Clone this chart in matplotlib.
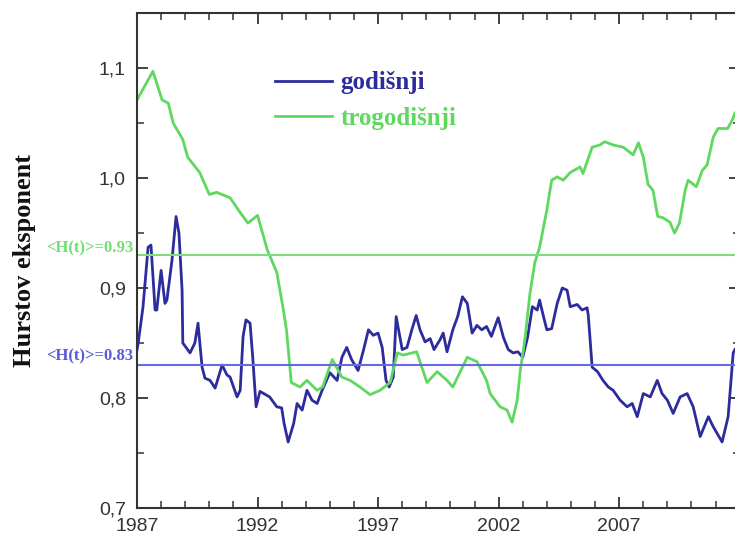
# %%
# Hurst exponent, annual vs three-year window
import numpy as np
import matplotlib.pyplot as plt
from matplotlib.ticker import MultipleLocator, FuncFormatter

# %%
# godišnji (annual window)
god_x = [1987.0, 1987.05, 1987.25, 1987.46, 1987.58, 1987.75, 1987.82, 1988.0,
         1988.16, 1988.24, 1988.45, 1988.62, 1988.74, 1988.87, 1988.9, 1989.2,
         1989.4, 1989.53, 1989.7, 1989.82, 1990.03, 1990.24, 1990.53, 1990.73,
         1990.86, 1991.15, 1991.28, 1991.4, 1991.52, 1991.69, 1991.8, 1991.94,
         1992.1, 1992.5, 1992.8, 1993.0, 1993.1, 1993.27, 1993.5, 1993.64,
         1993.85, 1994.05, 1994.26, 1994.47, 1994.68, 1995.0, 1995.3, 1995.5,
         1995.7, 1995.9, 1996.17, 1996.4, 1996.6, 1996.8, 1997.0, 1997.17,
         1997.33, 1997.46, 1997.63, 1997.75, 1997.85, 1998.0, 1998.2, 1998.4,
         1998.58, 1998.74, 1998.95, 1999.16, 1999.32, 1999.57, 1999.7, 1999.86,
         2000.1, 2000.3, 2000.5, 2000.7, 2000.9, 2001.1, 2001.3, 2001.5,
         2001.7, 2001.98, 2002.2, 2002.4, 2002.6, 2002.8, 2003.0, 2003.2,
         2003.4, 2003.6, 2003.7, 2003.85, 2004.0, 2004.2, 2004.43, 2004.64,
         2004.84, 2004.97, 2005.26, 2005.46, 2005.67, 2005.72, 2005.88, 2006.1,
         2006.33, 2006.55, 2006.75, 2007.04, 2007.33, 2007.54, 2007.75, 2008.0,
         2008.29, 2008.58, 2008.78, 2009.0, 2009.24, 2009.53, 2009.82, 2010.07,
         2010.36, 2010.7, 2010.9, 2011.27, 2011.52, 2011.73, 2011.8]
god_y = [0.844, 0.850, 0.883, 0.937, 0.939, 0.880, 0.880, 0.916,
         0.886, 0.889, 0.925, 0.965, 0.950, 0.898, 0.850, 0.841,
         0.850, 0.868, 0.828, 0.818, 0.816, 0.809, 0.830, 0.821,
         0.819, 0.801, 0.807, 0.856, 0.871, 0.868, 0.837, 0.792,
         0.806, 0.801, 0.792, 0.791, 0.777, 0.760, 0.777, 0.795,
         0.789, 0.807, 0.798, 0.795, 0.807, 0.823, 0.816, 0.837,
         0.846, 0.835, 0.825, 0.844, 0.862, 0.857, 0.859, 0.846,
         0.816, 0.810, 0.819, 0.874, 0.862, 0.844, 0.846, 0.862,
         0.875, 0.862, 0.851, 0.854, 0.844, 0.853, 0.859, 0.842,
         0.862, 0.874, 0.892, 0.886, 0.859, 0.866, 0.862, 0.865,
         0.856, 0.873, 0.855, 0.844, 0.841, 0.842, 0.837, 0.855,
         0.883, 0.880, 0.889, 0.875, 0.862, 0.863, 0.886, 0.900,
         0.898, 0.883, 0.885, 0.880, 0.882, 0.875, 0.828, 0.824,
         0.816, 0.810, 0.807, 0.798, 0.792, 0.795, 0.783, 0.804,
         0.801, 0.816, 0.804, 0.798, 0.786, 0.801, 0.804, 0.792,
         0.765, 0.783, 0.774, 0.760, 0.783, 0.841, 0.844]

# trogodišnji (three-year window)
tro_x = [1987.0, 1987.66, 1988.04, 1988.3, 1988.5, 1988.9, 1989.1, 1989.6,
         1990.0, 1990.3, 1990.86, 1991.3, 1991.6, 1992.0, 1992.4, 1992.8,
         1993.05, 1993.2, 1993.4, 1993.76, 1994.05, 1994.47, 1994.7, 1995.1,
         1995.5, 1995.84, 1996.25, 1996.67, 1997.08, 1997.5, 1997.8, 1998.04,
         1998.6, 1999.03, 1999.45, 1999.86, 2000.1, 2000.7, 2001.1, 2001.5,
         2001.65, 2002.06, 2002.35, 2002.56, 2002.77, 2002.9, 2003.1, 2003.3,
         2003.5, 2003.7, 2004.0, 2004.2, 2004.43, 2004.68, 2004.97, 2005.38,
         2005.5, 2005.88, 2006.2, 2006.4, 2006.75, 2007.17, 2007.58, 2007.8,
         2008.0, 2008.2, 2008.4, 2008.6, 2008.8, 2009.1, 2009.3, 2009.5,
         2009.74, 2009.86, 2010.2, 2010.45, 2010.65, 2010.9, 2011.1, 2011.5,
         2011.7, 2011.8]
tro_y = [1.071, 1.097, 1.071, 1.068, 1.050, 1.035, 1.019, 1.005,
         0.985, 0.987, 0.982, 0.968, 0.959, 0.966, 0.935, 0.914,
         0.883, 0.862, 0.814, 0.810, 0.816, 0.807, 0.810, 0.835,
         0.819, 0.816, 0.810, 0.803, 0.807, 0.814, 0.841, 0.839,
         0.842, 0.814, 0.824, 0.816, 0.810, 0.837, 0.833, 0.816,
         0.804, 0.792, 0.789, 0.778, 0.798, 0.825, 0.855, 0.895,
         0.923, 0.937, 0.971, 0.998, 1.001, 0.998, 1.005, 1.010,
         1.004, 1.028, 1.030, 1.033, 1.030, 1.028, 1.021, 1.032,
         1.019, 0.994, 0.989, 0.965, 0.964, 0.960, 0.950, 0.959,
         0.989, 0.998, 0.992, 1.007, 1.012, 1.037, 1.045, 1.045,
         1.053, 1.059]

year_ticks = [1987, 1992, 1997, 2002, 2007]
mean_god = 0.83
mean_tro = 0.93

# %%
blue = '#2c2c9c'
green = '#5ed85e'
serif = 'Liberation Serif'

fig = plt.figure(figsize=(7.35, 5.37), dpi=100)
ax = fig.add_axes([0.1864, 0.054, 0.82, 0.9218])

ax.plot(god_x, god_y, color=blue, lw=2.0, label='godišnji')
ax.plot(tro_x, tro_y, color=green, lw=2.0, label='trogodišnji')
ax.axhline(mean_tro, color='#7ddc7d', lw=1.5)
ax.axhline(mean_god, color='#6a6ae0', lw=1.5)

ax.set_xlim(1987, 2012)
ax.set_ylim(0.7, 1.15)
ax.set_xticks(year_ticks)
ax.xaxis.set_minor_locator(MultipleLocator(1))
ax.yaxis.set_major_locator(MultipleLocator(0.1))
ax.yaxis.set_minor_locator(MultipleLocator(0.05))
ax.yaxis.set_major_formatter(FuncFormatter(lambda v, p: f'{v:.1f}'.replace('.', ',')))
ax.tick_params(which='both', direction='in', top=True, right=True,
               colors='#333333', labelsize=14)
ax.tick_params(axis='x', pad=7)
ax.tick_params(axis='y', pad=8)
ax.tick_params(which='major', length=8, width=1.3)
ax.tick_params(which='minor', length=5, width=1.1)
for lab in ax.get_xticklabels() + ax.get_yticklabels():
    lab.set_family('Liberation Sans')
for s in ax.spines.values():
    s.set_color('#333333')
    s.set_linewidth(1.5)

ax.set_ylabel('Hurstov eksponent', family=serif, fontweight='bold',
              fontsize=19, color='#111111')
ax.yaxis.set_label_coords(-0.168, 0.5)

# labels for the mean lines, left of the axis
ax.text(-0.006, mean_tro + 0.006, '<H(t)>=0.93', transform=ax.get_yaxis_transform(),
        ha='right', va='center', color='#6fe06f', fontsize=12,
        family=serif, fontweight='bold')
ax.text(-0.006, mean_god + 0.008, '<H(t)>=0.83', transform=ax.get_yaxis_transform(),
        ha='right', va='center', color='#5a5ad6', fontsize=12,
        family=serif, fontweight='bold')

leg = ax.legend(loc='upper left', bbox_to_anchor=(262 / 735, 1 - 59 / 537),
                bbox_transform=fig.transFigure, frameon=False,
                handlelength=2.3, handletextpad=0.35, labelspacing=0.5,
                borderpad=0.0, prop={'family': serif, 'weight': 'bold', 'size': 18})
for txt, c in zip(leg.get_texts(), [blue, green]):
    txt.set_color(c)

fig.savefig('out.png', dpi=100)
